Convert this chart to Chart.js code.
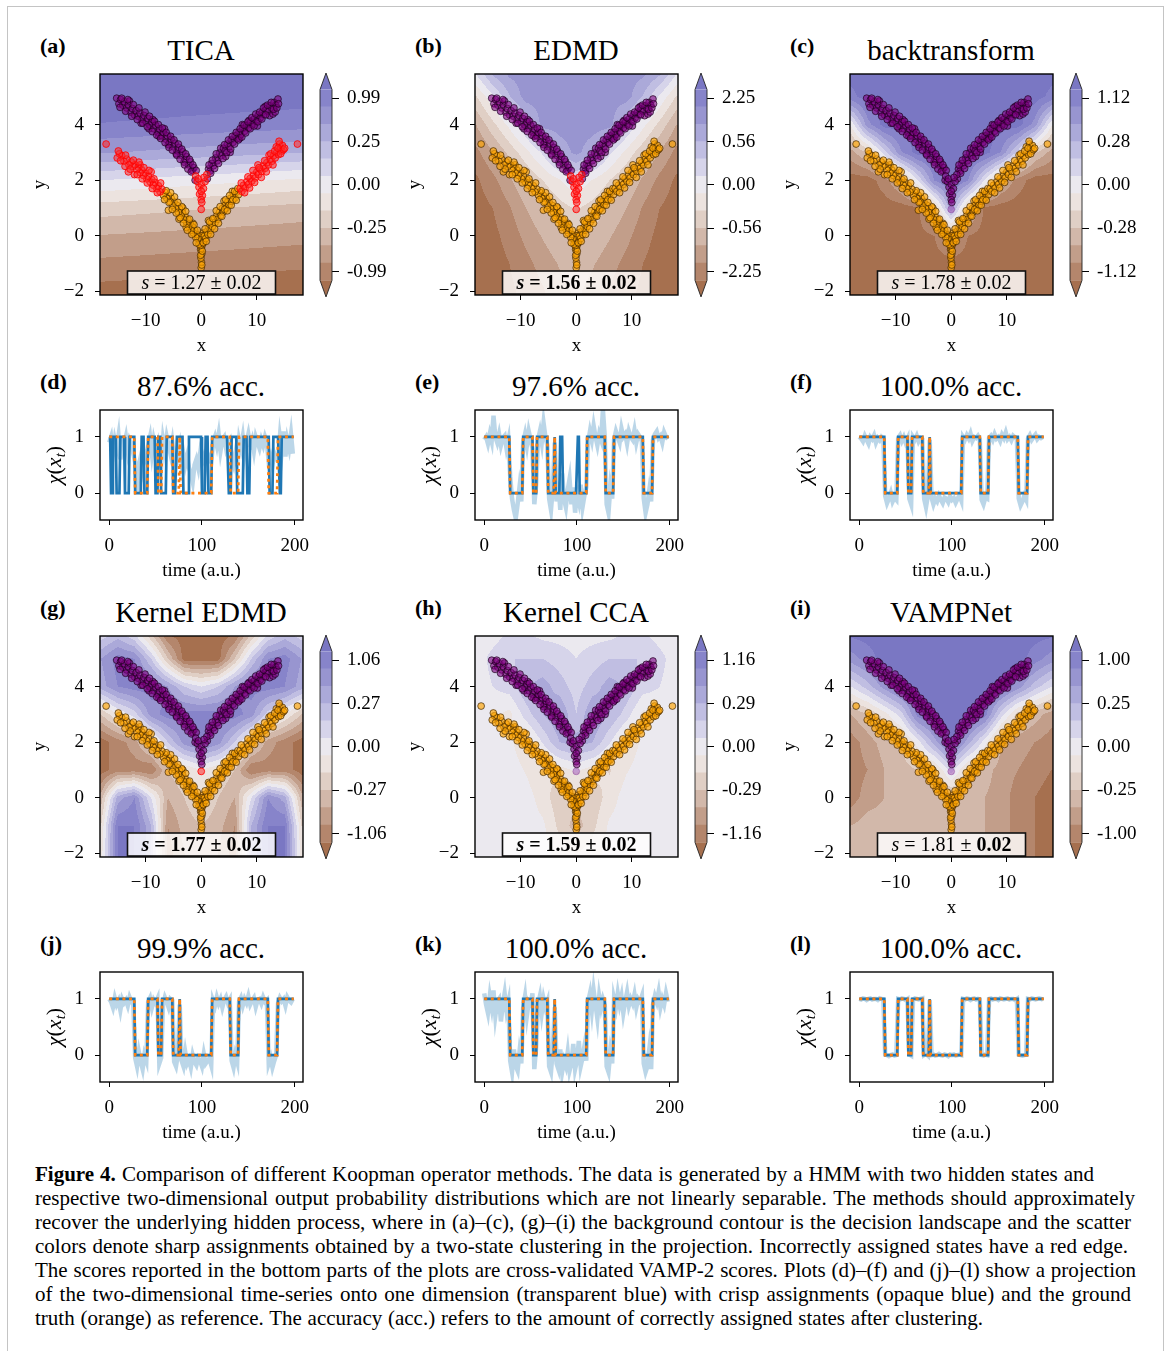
<!DOCTYPE html>
<html>
<head>
<meta charset="utf-8">
<script src="https://cdn.jsdelivr.net/npm/chart.js@4.4.0/dist/chart.umd.min.js"></script>
<style>
body { margin:0; background:#fff; width:1168px; height:1351px; position:relative; overflow:hidden; font-family:"Liberation Serif","Times New Roman",serif; color:#000; }
#frame { position:absolute; left:7px; top:6px; width:1155px; height:1400px; border:1px solid #c4c4c4; }
canvas { position:absolute; }
.tag { position:absolute; font-weight:bold; font-size:22px; line-height:26px; }
.ttl { position:absolute; font-size:29px; line-height:34px; width:300px; text-align:center; }
.cap { position:absolute; left:35px; font-size:21px; line-height:24px; white-space:nowrap; }
</style>
</head>
<body>
<div id="frame"></div>
<script>
// ---- scatter data (same trajectory in every contour panel) ----
var UPPER_V = [[-15.2,4.95],[-14.8,4.75],[-14.5,4.9],[-14.1,4.7],[-13.8,4.82],[-13.4,4.6],[-13.1,4.72],[-12.9,4.85],[-12.7,4.45],[-12.4,4.58],[-12.0,4.35],[-11.7,4.5],[-11.3,4.3],[-11.0,4.42],[-10.8,4.05],[-10.6,4.2],[-10.3,4.33],[-9.9,4.1],[-9.6,4.22],[-9.4,3.85],[-9.2,3.98],[-8.9,4.1],[-8.7,4.18],[-8.5,3.85],[-8.2,3.98],[-7.8,3.72],[-7.6,3.58],[-7.5,3.85],[-7.1,3.6],[-6.8,3.72],[-6.6,3.85],[-6.4,3.48],[-6.1,3.6],[-5.9,3.28],[-5.7,3.35],[-5.4,3.47],[-5.0,3.2],[-4.7,3.33],[-4.5,2.95],[-4.3,3.06],[-4.0,3.18],[-3.6,2.9],[-3.3,3.02],[-3.1,2.65],[-2.9,2.74],[-2.6,2.85],[-2.2,2.55],[-1.9,2.66],[-1.6,2.35],[-1.3,2.45],
  [-14.6,4.62],[-14.3,4.95],[-13.6,4.48],[-13.2,4.9],[-12.5,4.3],[-12.2,4.72],[-11.5,4.18],[-11.2,4.6],[-10.5,4.05],[-10.1,4.45],[-9.7,3.92],[-9.3,4.3],[-8.8,3.75],[-8.4,4.12],[-8.0,3.62],[-7.7,4.0],[-7.3,3.5],[-7.0,3.88],[-6.5,3.35],[-6.3,3.72],[-5.8,3.18],[-5.5,3.58],[-5.2,3.08],[-4.9,3.45],[-4.4,2.9],[-4.1,3.3],[-3.8,2.75],[-3.5,3.12],[-3.0,2.55],[-2.8,2.95],[-2.4,2.4],[-2.1,2.75],[-1.8,2.3],[-1.5,2.55],[-1.1,2.0],[-0.9,2.35],
  [1.3,2.4],[1.6,2.33],[1.9,2.6],[2.2,2.52],[2.6,2.8],[2.9,2.7],[3.3,2.98],[3.5,3.15],[3.6,2.88],[4.0,3.15],[4.3,3.05],[4.4,2.85],[4.7,3.3],[5.0,3.2],[5.2,3.0],[5.4,3.45],[5.7,3.36],[6.1,3.6],[6.4,3.5],[6.8,3.73],[6.9,3.5],[7.1,3.63],[7.4,4.0],[7.5,3.86],[7.8,3.76],[8.2,3.98],[8.5,3.88],[8.6,4.15],[8.9,4.1],[9.2,4.0],[9.6,4.22],[9.9,4.12],[10.1,3.95],[10.3,4.35],[10.6,4.24],[11.0,4.45],[11.3,4.36],[11.5,4.65],[11.7,4.55],[12.0,4.48],[12.3,4.32],[12.4,4.68],[12.7,4.58],[12.9,4.38],[13.1,4.8],[13.3,4.45],[13.4,4.7],[13.8,4.92],
  [1.1,2.05],[1.4,2.55],[1.7,2.25],[2.0,2.72],[2.4,2.42],[2.7,2.95],[3.1,2.6],[3.9,2.78],[4.2,3.28],[4.6,3.0],[4.9,3.45],[5.3,3.12],[5.6,3.58],[6.0,3.3],[6.3,3.72],[6.7,3.45],[7.0,3.85],[7.3,3.55],[7.7,3.98],[8.0,3.7],[8.4,4.1],[8.8,3.85],[9.1,4.25],[9.5,3.95],[9.8,4.38],[10.2,4.1],[10.5,4.45],[10.9,4.2],[11.2,4.6],[11.6,4.35],[11.9,4.7],[12.6,4.8],[13.0,4.55],[13.6,4.6],[13.9,4.75]];
var APEX = [[-1.0,2.15],[1.0,2.2],[-0.7,1.95],[-0.4,1.75],[0,1.85],[0.4,1.7],[0.7,1.95],[-0.3,1.5],[0.2,1.45],[0,1.3],[-0.5,2.05],[0.5,2.1],[0,1.6],[0.1,1.2]];
var STRAY = [[0,0.95]];
var LOWER_V = [[0,-1.15],[0.05,-0.95],[-0.05,-0.8],[0.1,-0.65],[-0.1,-0.5],[0.15,-0.35],[-0.2,-0.2],[0.25,-0.1],[-0.3,0.0],[0.35,0.1],[0,-0.45],[0,-0.25],
  [0.1,-1.05],[-0.1,-0.7],[0.2,-0.55],[-0.15,-0.35],[0.3,-0.25],[-0.25,-0.05],[0.15,0.0],
  [-0.4,-0.3],[-0.6,-0.1],[-0.8,0.05],[-1.0,-0.05],[-1.2,0.2],[-1.4,0.1],[-1.5,0.45],[-1.6,0.32],[-1.8,0.2],[-2.0,0.45],[-2.2,0.33],[-2.4,0.58],[-2.6,0.46],[-2.7,0.3],[-2.9,0.7],[-3.1,0.58],[-3.3,1.0],[-3.4,0.83],[-3.6,0.72],[-3.9,0.97],[-4.0,0.6],[-4.1,0.85],[-4.4,1.1],[-4.6,0.98],[-4.9,1.22],[-5.1,1.1],[-5.4,1.35],[-5.6,1.23],[-5.9,1.45],[-5.9,0.92],[-6.2,1.35],[-6.5,1.56],[-6.8,1.46],
  [-0.7,0.2],[-0.9,-0.25],[-1.3,0.4],[-1.7,0.05],[-2.1,0.6],[-2.5,0.2],[-2.8,0.88],[-3.2,0.45],[-3.5,1.05],[-3.8,0.65],[-4.2,1.2],[-4.5,0.82],[-4.8,1.4],[-5.2,0.95],[-5.5,1.55],[-5.8,1.2],[-6.3,1.62],[-6.6,1.3],
  [0.4,-0.25],[0.6,0.0],[0.8,-0.1],[1.0,0.15],[1.2,0.05],[1.3,0.55],[1.4,0.3],[1.6,0.2],[1.8,0.45],[2.0,0.33],[2.3,0.6],[2.5,0.48],[2.8,0.72],[3.0,0.6],[3.3,0.85],[3.5,0.73],[3.8,0.98],[4.0,0.86],[4.1,1.25],[4.3,1.1],[4.5,0.99],[4.8,1.22],[5.0,1.1],[5.3,1.35],[5.5,1.24],[5.6,1.6],[5.8,1.46],[6.1,1.36],[6.4,1.58],[6.7,1.48],
  [0.7,0.25],[0.9,-0.2],[1.5,0.5],[1.7,0.05],[2.1,0.62],[2.4,0.25],[2.7,0.9],[3.1,0.45],[3.4,1.05],[3.7,0.7],[4.2,0.95],[4.4,1.3],[4.7,0.9],[5.1,1.45],[5.4,1.1],[5.7,1.3],[6.0,1.6],[6.3,1.28],[6.6,1.7]];
var LOWER_OUTER = [[-7.1,1.68],[-7.4,1.58],[-7.7,1.8],[-8.0,1.7],[-8.3,1.92],[-8.6,1.82],[-8.9,2.02],[-9.0,2.3],[-9.2,1.94],[-9.5,2.15],[-9.8,2.05],[-10.1,2.26],[-10.4,2.17],[-10.7,2.37],[-11.0,2.28],[-11.0,2.55],[-11.3,2.46],[-11.6,2.38],[-11.9,2.56],[-12.0,2.2],[-12.3,2.5],[-12.6,2.66],[-13.0,2.55],[-13.1,2.3],[-13.4,2.76],[-13.9,2.68],[-14.3,2.88],[-14.7,2.95],[-15.1,2.8],
  [-7.3,1.9],[-7.9,1.55],[-8.5,2.05],[-8.8,1.7],[-9.4,2.35],[-9.7,1.9],[-10.3,2.45],[-10.6,2.05],[-11.2,2.65],[-11.5,2.2],[-12.2,2.72],[-12.8,2.4],[-13.6,2.9],[-13.7,2.5],[-14.5,2.7],[-14.9,3.05],
  [7.0,1.7],[7.3,1.6],[7.6,1.82],[7.9,1.72],[8.2,1.95],[8.5,1.85],[8.8,2.06],[9.1,1.97],[9.4,2.18],[9.7,2.08],[10.0,2.3],[10.2,2.55],[10.3,2.2],[10.6,2.4],[10.9,2.32],[11.2,2.52],[11.5,2.43],[11.8,2.63],[12.1,2.55],[12.2,2.9],[12.4,2.75],[12.7,2.68],[13.0,2.88],[13.3,2.8],[13.5,3.2],[13.6,3.0],[13.9,2.92],[14.1,3.3],[14.2,3.12],[14.5,3.05],[14.6,3.25],
  [7.2,1.9],[7.8,1.55],[8.4,2.12],[8.7,1.72],[9.3,2.35],[9.6,1.92],[10.4,2.45],[10.8,2.1],[11.4,2.7],[11.7,2.3],[12.5,2.95],[12.9,2.55],[13.2,3.05],[13.8,3.15],[14.3,2.95],[14.8,3.1],[14.0,3.4],[15.0,3.15],
  [-17.1,3.3],[17.3,3.3]];

// ---- background decision landscapes: contour level (-6 brown .. 6 purple) on a coarse grid ----
var FIELD_X = [-18,-15,-12,-9,-6,-3,0,3,6,9,12,15,18];
var FIELD_Y = [6,5,4,3,2,1,0,-1,-2];
var TICA_FIELD = [
  [6.5,6.5,6.5,6.5,6.5,6.5,6.5,6.5,6.5,6.5,6.5,6.5,6.5],
  [6.3,6.27,6.24,6.21,6.18,6.15,6.12,6.1,6.07,6.04,6.01,5.98,5.95],
  [5.45,5.4,5.36,5.31,5.27,5.22,5.18,5.13,5.08,5.04,4.99,4.95,4.9],
  [3.6,3.51,3.43,3.34,3.25,3.16,3.08,2.99,2.9,2.81,2.73,2.64,2.55],
  [0.5,0.4,0.3,0.21,0.11,0.01,-0.09,-0.19,-0.29,-0.38,-0.48,-0.58,-0.68],
  [-2,-2.07,-2.14,-2.21,-2.28,-2.35,-2.42,-2.49,-2.56,-2.63,-2.7,-2.77,-2.84],
  [-3.55,-3.6,-3.65,-3.7,-3.75,-3.8,-3.85,-3.89,-3.94,-3.99,-4.04,-4.09,-4.14],
  [-4.75,-4.79,-4.83,-4.87,-4.92,-4.96,-5,-5.04,-5.08,-5.12,-5.17,-5.21,-5.25],
  [-5.9,-5.94,-5.98,-6.02,-6.07,-6.11,-6.15,-6.19,-6.23,-6.27,-6.32,-6.36,-6.4]];
var EDMD_FIELD = [
  [1,3.2,4,4,4,4,4,4,4,4,4,3.2,1],
  [-1.6,0.3,2.4,4,4,4,4,4,4,4,2.4,0.3,-1.6],
  [-3.5,-1.8,-0.2,1.6,3.9,4,4,4,3.9,1.6,-0.2,-1.8,-3.5],
  [-4.8,-3.6,-2.2,-0.8,0.7,2.8,3.8,2.8,0.7,-0.8,-2.2,-3.6,-4.8],
  [-5.7,-4.8,-3.7,-2.5,-1.5,-0.6,0.4,-0.6,-1.5,-2.5,-3.7,-4.8,-5.7],
  [-6,-5.5,-4.6,-3.5,-2.6,-1.9,-1.4,-1.9,-2.6,-3.5,-4.6,-5.5,-6],
  [-6,-5.8,-5.1,-4.2,-3.4,-2.7,-2.2,-2.7,-3.4,-4.2,-5.1,-5.8,-6],
  [-6,-6,-5.5,-4.8,-4.1,-3.4,-2.8,-3.4,-4.1,-4.8,-5.5,-6,-6],
  [-6,-6,-5.7,-5.2,-4.6,-3.9,-3.3,-3.9,-4.6,-5.2,-5.7,-6,-6]];
var BACK_FIELD = [
  [6,6,6,6,6,6,6,6,6,6,6,6,6],
  [5.2,6,6,6,6,6,6,6,6,6,6,6,5.2],
  [-0.3,4.1,6,6,6,6,6,6,6,6,6,4.1,-0.3],
  [-3.9,-2.3,1.1,4.4,6,6,6,6,6,4.4,1.1,-2.3,-3.9],
  [-6,-6,-5,-3.1,0.5,4.6,6,4.6,0.5,-3.1,-5,-6,-6],
  [-6,-6,-6,-6,-5.7,-2.3,3.4,-2.3,-5.7,-6,-6,-6,-6],
  [-6,-6,-6,-6,-6,-5.5,-3.7,-5.5,-6,-6,-6,-6,-6],
  [-6,-6,-6,-6,-6,-6,-6,-6,-6,-6,-6,-6,-6],
  [-6,-6,-6,-6,-6,-6,-6,-6,-6,-6,-6,-6,-6]];
var KEDMD_FIELD = [
  [0.5,1.5,0,-3,-6,-6,-6,-6,-6,-3,0,1.5,0.5],
  [3.5,5,4.5,1.5,-2.5,-6,-6,-6,-2.5,1.5,4.5,5,3.5],
  [3,4.5,5,5,3.5,1.5,0.5,1.5,3.5,5,5,4.5,3],
  [-2.5,-0.5,1,4,5,5,5,5,5,4,1,-0.5,-2.5],
  [-6,-5,-4,-1.5,1.5,4,5,4,1.5,-1.5,-4,-5,-6],
  [-6,-5,-5,-5.5,-2.5,-1.5,-0.5,-1.5,-2.5,-5.5,-5,-5,-6],
  [-3,3,4.5,0.5,-3.5,-2.5,-1.5,-2.5,-3.5,0.5,4.5,3,-3],
  [-1.5,5.5,5.5,2.5,-4.5,-3,-2.5,-3,-4.5,2.5,5.5,5.5,-1.5],
  [-1,5.5,5.5,2.5,-5,-3.5,-3,-3.5,-5,2.5,5.5,5.5,-1]];
var KCCA_FIELD = [
  [0,0,0.5,0.5,0,0,0,0,0,0.5,0.5,0,0],
  [0,0.8,1.5,1.5,1.5,1,0.5,1,1.5,1.5,1.5,0.8,0],
  [0,0.5,1,2.4,3,2,1,2,3,2.4,1,0.5,0],
  [0,-0.3,-0.8,1,2.5,3.5,1.5,3.5,2.5,1,-0.8,-0.3,0],
  [0,0,-0.3,-1.2,0.6,2.5,3,2.5,0.6,-1.2,-0.3,0,0],
  [0,0,0,-0.6,-1.6,-1,-0.3,-1,-1.6,-0.6,0,0,0],
  [0,0,0,0,-1,-2.2,-2,-2.2,-1,0,0,0,0],
  [0,0,0,0,-0.3,-1.8,-3,-1.8,-0.3,0,0,0,0],
  [0,0,0,0,0,-1,-1.5,-1,0,0,0,0,0]];
var VAMP_FIELD = [
  [6,6,6,6,6,6,6,6,6,6,6,6,6],
  [4,5,6,6,6,6,6,6,6,6,6,5,4],
  [0.5,2,4,5.5,6,6,6,6,6,5.5,4,2,0.5],
  [-3.5,-2.5,-1,1,5,6,6,6,5,1,-2,-3,-4],
  [-5,-4,-3,-2.5,0,3,6,3,0,-3.5,-4,-4.5,-5],
  [-5,-4.5,-3.5,-3,-2.5,-2,1,-2,-3,-4,-4.5,-5,-5.5],
  [-5,-4,-3.5,-3,-3,-3,-3,-3,-3.5,-4,-5,-5.5,-6],
  [-3.5,-3,-3,-3,-3,-3,-3,-3,-3.5,-4,-5,-5.5,-6],
  [-3,-3,-3,-3,-3,-3,-3,-3,-3.5,-4,-5,-5.5,-6]];
var LEVEL_COLORS = ['#a6704f','#b4866c','#c29e8a','#d2b8aa','#e0cfc5','#ece3df','#ebe9ef','#d6d4ea','#c0bee2','#aba9d9','#9895d0','#8784ca','#7a77c3'];
var CB_LEVELS = [-5,-4,-3,-2,-1,0,1,2,3,4,5];
var CB_TICKS = [-5,-2.5,0,2.5,5];
var TICA_CB = ['-0.99','-0.25','0.00','0.25','0.99'];
var EDMD_CB = ['-2.25','-0.56','0.00','0.56','2.25'];
var BACK_CB = ['-1.12','-0.28','0.00','0.28','1.12'];
var KEDMD_CB = ['-1.06','-0.27','0.00','0.27','1.06'];
var KCCA_CB = ['-1.16','-0.29','0.00','0.29','1.16'];
var VAMP_CB = ['-1.00','-0.25','0.00','0.25','1.00'];
var XTICKS = [-10,0,10];
var YTICKS = [-2,0,2,4];

// ---- time series: state runs [value, length] over t = 0..199 ----
var TRUTH_RUNS = [[1,28],[0,14],[1,11],[0,4],[1,12],[0,7],[1,1],[0,34],[1,20],[0,9],[1,32],[0,10],[1,18]];
var TICA_CRISP_RUNS = [[1,2],[0,2],[1,4],[0,4],[1,5],[0,5],[1,6],[0,7],[1,3],[0,4],[1,8],[0,3],[1,3],[0,6],[1,7],[0,4],[1,7],[0,6],[1,14],[0,4],[1,3],[0,4],[1,18],[0,3],[1,6],[0,7],[1,4],[0,3],[1,21],[0,4],[1,7],[0,2],[1,14]];
var EDMD_CRISP_RUNS = [[1,28],[0,14],[1,11],[0,4],[1,12],[0,7],[1,1],[0,5],[1,3],[0,16],[1,2],[0,8],[1,20],[0,9],[1,32],[0,10],[1,18]];
// projections sampled at t = 0, 2, 4, ..., 198
var TICA_PROJ = [0.9,1.0,0.7,0.95,0.8,1.02,0.6,0.9,0.85,1.0,0.75,0.95,0.88,0.7,
  0.55,0.0,0.5,0.65,0.45,0.7,0.6, 0.85,1.0,0.7,0.95,0.8,0.9, 0.6,0.5, 0.95,0.75,1.0,0.85,0.7,0.9, 0.6,0.5,0.7, 0.85,
  0.55,0.7,0.5,0.65,0.45,0.35,0.2,0.5,0.6,0.45,0.7,0.55,0.65,0.5,0.7,0.6,0.55,
  0.9,1.0,0.85,1.05,0.75,0.95,1.0,0.8,0.9,0.95, 0.6,0.5,0.7,0.55,
  0.95,0.8,1.0,0.7,0.9,1.05,0.85,0.95,0.75,1.0,0.9,0.8,0.95,0.85,1.0,0.9, 0.55,0.65,0.5,0.7,0.6,
  0.6,1.0,0.75,1.1,0.65,0.95,0.8,1.05,0.7];
var EDMD_PROJ = [0.95,1.0,0.88,1.05,0.92,1.38,1.0,0.9,1.05,0.85,0.98,1.02,0.8,0.95,
  0.3,-0.1,-0.3,-0.45,-0.2,0.1,-0.15, 0.9,1.05,0.85,1.1,0.95,0.8, -0.2,0.15, 0.95,1.1,0.9,1.25,1.0,0.85, -0.1,-0.3,0.1, 0.9,
  -0.15,0.2,-0.3,0.35,-0.1,-0.25,0.05,0.25,-0.2,0.1,-0.35,0.0,-0.15,0.15,-0.25,-0.05,0.1,
  0.9,1.1,0.95,1.2,1.0,0.85,1.05,0.95,1.48,1.0, -0.2,-0.35,0.1,-0.1,
  0.95,1.1,1.0,0.9,1.15,1.0,1.05,0.88,1.1,1.0,0.95,1.12,0.9,1.05,1.0,0.92, -0.1,-0.35,-0.2,0.05,-0.15,
  0.95,1.05,1.1,0.98,1.02,0.9,1.08,1.0,0.96];
var BACK_PROJ = [1.0,0.97,0.92,1.02,0.95,0.88,1.0,0.96,1.03,0.9,0.98,0.94,1.0,0.97,
  -0.05,-0.18,-0.1,0.0,-0.15,-0.08,-0.12, 0.98,1.03,0.93,1.0,0.9,0.97, -0.1,-0.2, 1.0,0.95,1.02,0.92,0.98,0.96, -0.1,-0.25,-0.05, 0.95,
  -0.08,-0.2,-0.1,-0.15,-0.05,-0.12,-0.18,-0.08,-0.1,-0.16,-0.06,-0.12,-0.09,-0.17,-0.1,-0.04,-0.13,
  1.0,0.95,1.03,0.97,1.06,0.93,1.0,0.98,1.02,0.96, -0.12,-0.2,-0.08,-0.1,
  0.98,1.02,0.95,1.05,0.97,1.0,0.93,1.04,0.98,1.08,0.96,1.0,0.94,1.02,0.99,0.97, -0.1,-0.22,-0.15,-0.05,-0.12,
  0.97,1.03,0.95,1.0,1.04,0.96,1.0,0.98,1.0];
var KEDMD_PROJ = [1.0,0.95,0.85,1.02,0.9,0.97,0.8,1.0,0.93,0.98,0.88,1.03,0.95,0.9,
  -0.05,-0.2,0.05,-0.12,-0.25,0.0,-0.1, 0.95,1.02,0.85,0.98,0.92,1.0, -0.15,-0.05, 0.9,1.03,0.95,0.85,1.0,0.97, -0.12,-0.2,0.0, 0.9,
  -0.1,-0.2,0.05,-0.15,-0.08,-0.22,0.0,-0.12,-0.18,-0.05,-0.1,-0.2,0.02,-0.15,-0.1,-0.06,-0.18,
  0.97,0.88,1.03,0.92,1.0,0.85,0.98,1.04,0.93,0.99, -0.1,-0.22,0.0,-0.12,
  0.95,1.02,0.88,1.0,0.93,1.05,0.9,0.97,1.02,0.86,0.98,1.0,0.92,1.03,0.95,0.98, -0.15,-0.05,-0.22,-0.1,0.0,
  0.92,1.02,0.96,1.0,0.88,1.03,0.97,0.94,1.0];
var KCCA_PROJ = [1.1,0.9,0.75,1.05,0.85,1.15,0.7,0.95,1.0,0.6,0.9,1.1,0.8,0.95,
  -0.1,-0.3,0.1,-0.2,-0.28,0.05,-0.15, 0.85,1.05,0.7,0.95,0.9,1.1, -0.25,0.15, 0.9,1.05,0.75,1.0,0.85,0.95, -0.2,-0.3,0.1, 0.85,
  -0.15,-0.25,0.1,-0.3,-0.1,-0.2,0.05,-0.28,-0.15,0.2,-0.25,-0.1,0.25,-0.2,-0.05,0.15,-0.1,
  0.95,1.1,0.8,1.15,0.9,0.65,1.05,0.85,1.0,0.9, -0.2,-0.3,0.05,-0.15,
  1.0,0.85,1.1,0.9,1.05,0.75,0.95,1.12,0.88,1.0,0.92,1.08,0.85,1.0,0.95,1.05, -0.15,-0.3,-0.2,0.1,-0.25,
  0.9,1.05,0.95,1.12,0.85,1.0,0.9,1.1,0.95];
var VAMP_PROJ = [1.0,0.99,1.01,1.0,0.98,1.0,1.01,0.99,1.0,1.0,0.98,1.01,1.0,0.99,
  0.01,0.0,-0.02,0.0,0.01,-0.01,0.0, 1.0,0.99,1.01,1.0,0.98,1.0, 0.01,-0.01, 0.99,1.01,1.0,0.99,1.0,1.01, 0.0,0.02,-0.01, 0.98,
  0.0,0.01,-0.01,0.0,0.02,0.0,-0.01,0.01,0.0,-0.02,0.01,0.0,0.01,-0.01,0.0,0.01,0.0,
  1.0,0.99,1.01,1.0,0.98,1.0,1.01,0.99,1.0,0.99, 0.0,-0.01,0.01,0.0,
  1.0,1.01,0.99,1.0,1.0,0.98,1.01,1.0,0.99,1.0,1.01,0.99,1.0,1.0,0.98,1.0, 0.01,0.0,-0.01,0.0,0.01,
  1.0,0.99,1.01,1.0,0.99,1.0,1.01,1.0,0.99];
var TIME_TICKS = [0,100,200];
var CHI_TICKS = [0,1];

var CAPTION_LINES = [
  'Comparison of different Koopman operator methods. The data is generated by a HMM with two hidden states and',
  'respective two-dimensional output probability distributions which are not linearly separable. The methods should approximately',
  'recover the underlying hidden process, where in (a)\u2013(c), (g)\u2013(i) the background contour is the decision landscape and the scatter',
  'colors denote sharp assignments obtained by a two-state clustering in the projection. Incorrectly assigned states have a red edge.',
  'The scores reported in the bottom parts of the plots are cross-validated VAMP-2 scores. Plots (d)\u2013(f) and (j)\u2013(l) show a projection',
  'of the two-dimensional time-series onto one dimension (transparent blue) with crisp assignments (opaque blue) and the ground',
  'truth (orange) as reference. The accuracy (acc.) refers to the amount of correctly assigned states after clustering.'];
var CAPTION_RIGHT = [1094, 1135, 1131, 1128, 1136, 1131, 983];

var CONTOURS = [
  {tag:'(a)', title:'TICA', field:TICA_FIELD, cb:TICA_CB, score:'1.27', bold:[false,false], red:['apex','stray','outer'], col:0, row:0},
  {tag:'(b)', title:'EDMD', field:EDMD_FIELD, cb:EDMD_CB, score:'1.56', bold:[true,true], red:['apex','stray'], col:1, row:0},
  {tag:'(c)', title:'backtransform', field:BACK_FIELD, cb:BACK_CB, score:'1.78', bold:[false,false], red:[], col:2, row:0},
  {tag:'(g)', title:'Kernel EDMD', field:KEDMD_FIELD, cb:KEDMD_CB, score:'1.77', bold:[true,true], red:['stray'], col:0, row:1},
  {tag:'(h)', title:'Kernel CCA', field:KCCA_FIELD, cb:KCCA_CB, score:'1.59', bold:[true,true], red:[], col:1, row:1},
  {tag:'(i)', title:'VAMPNet', field:VAMP_FIELD, cb:VAMP_CB, score:'1.81', bold:[false,true], red:[], col:2, row:1}
];
var SERIES = [
  {tag:'(d)', title:'87.6% acc.', proj:TICA_PROJ, crisp:TICA_CRISP_RUNS, col:0, row:0},
  {tag:'(e)', title:'97.6% acc.', proj:EDMD_PROJ, crisp:EDMD_CRISP_RUNS, col:1, row:0},
  {tag:'(f)', title:'100.0% acc.', proj:BACK_PROJ, crisp:TRUTH_RUNS, col:2, row:0},
  {tag:'(j)', title:'99.9% acc.', proj:KEDMD_PROJ, crisp:TRUTH_RUNS, col:0, row:1},
  {tag:'(k)', title:'100.0% acc.', proj:KCCA_PROJ, crisp:TRUTH_RUNS, col:1, row:1},
  {tag:'(l)', title:'100.0% acc.', proj:VAMP_PROJ, crisp:TRUTH_RUNS, col:2, row:1}
];

// ---- layout ----
var COL_X = [0, 375, 750];
var CONTOUR_TOP = [74, 636];
var SERIES_TOP = [410, 972];
var SERIF = '"Liberation Serif", "Times New Roman", serif';

Chart.defaults.font.family = SERIF;
Chart.defaults.color = '#000';
Chart.defaults.animation = false;
Chart.defaults.events = [];
Chart.defaults.plugins.legend.display = false;
Chart.defaults.plugins.tooltip.enabled = false;

function hexRgb(h) {
  return [parseInt(h.substr(1,2),16), parseInt(h.substr(3,2),16), parseInt(h.substr(5,2),16)];
}
var LEVEL_RGB = LEVEL_COLORS.map(hexRgb);

function addCanvas(left, top, w, h) {
  var c = document.createElement('canvas');
  c.width = w; c.height = h;
  c.style.left = left + 'px'; c.style.top = top + 'px';
  c.style.width = w + 'px'; c.style.height = h + 'px';
  document.body.appendChild(c);
  return c;
}
function addDiv(cls, html, left, top) {
  var d = document.createElement('div');
  d.className = cls; d.innerHTML = html;
  d.style.left = left + 'px'; d.style.top = top + 'px';
  document.body.appendChild(d);
  return d;
}
function fmtAxis(v) { return v < 0 ? '\u2212' + Math.abs(v) : String(v); }
function toPts(arr) { return arr.map(function (p) { return {x: p[0], y: p[1]}; }); }
function expandRuns(runs) {
  var out = [];
  runs.forEach(function (r) { for (var k = 0; k < r[1]; k++) out.push(r[0]); });
  return out;
}
// fixed-size axes that don't reserve extra room around the plot for their labels
function fixedYAxis(width) {
  return function (s) { s.width = width; s.paddingTop = 0; s.paddingBottom = 0; };
}
function fixedXAxis(height) {
  return function (s) { s.height = height; s.paddingLeft = 0; s.paddingRight = 0; };
}

function bracket(arr, v, desc) {
  for (var i = 0; i < arr.length - 1; i++) {
    var a = arr[i], b = arr[i + 1];
    if (desc ? (v <= a && v >= b) : (v >= a && v <= b)) return [i, (v - a) / (b - a)];
  }
  if (desc) return v > arr[0] ? [0, 0] : [arr.length - 2, 1];
  return v < arr[0] ? [0, 0] : [arr.length - 2, 1];
}
function sampleField(g, x, y) {
  var bx = bracket(FIELD_X, x, false), by = bracket(FIELD_Y, y, true);
  var i = bx[0], tx = bx[1], j = by[0], ty = by[1];
  var top = g[j][i] * (1 - tx) + g[j][i + 1] * tx;
  var bot = g[j + 1][i] * (1 - tx) + g[j + 1][i + 1] * tx;
  return top * (1 - ty) + bot * ty;
}

var framePlugin = {
  id: 'frame',
  afterDraw: function (chart) {
    var a = chart.chartArea, ctx = chart.ctx;
    ctx.save();
    ctx.strokeStyle = '#000'; ctx.lineWidth = 1.4;
    ctx.strokeRect(a.left, a.top, a.right - a.left, a.bottom - a.top);
    ctx.restore();
  }
};

function fieldPlugin(grid) {
  return {
    id: 'field',
    beforeDatasetsDraw: function (chart) {
      var a = chart.chartArea, ctx = chart.ctx, xs = chart.scales.x, ys = chart.scales.y;
      var w = Math.round(a.right - a.left), h = Math.round(a.bottom - a.top);
      var off = document.createElement('canvas');
      off.width = w; off.height = h;
      var octx = off.getContext('2d');
      var img = octx.createImageData(w, h);
      for (var py = 0; py < h; py++) {
        var yv = ys.getValueForPixel(a.top + py + 0.5);
        for (var px = 0; px < w; px++) {
          var xv = xs.getValueForPixel(a.left + px + 0.5);
          var lv = Math.max(-6, Math.min(6, Math.round(sampleField(grid, xv, yv))));
          var c = LEVEL_RGB[lv + 6], k = (py * w + px) * 4;
          img.data[k] = c[0]; img.data[k + 1] = c[1]; img.data[k + 2] = c[2]; img.data[k + 3] = 255;
        }
      }
      octx.putImageData(img, 0, 0);
      ctx.drawImage(off, a.left, a.top);
    }
  };
}

function scorePlugin(p) {
  return {
    id: 'score',
    afterDatasetsDraw: function (chart) {
      var a = chart.chartArea, ctx = chart.ctx;
      var bw = 148, bh = 23;
      var bx = (a.left + a.right) / 2 - bw / 2, by = a.bottom - bh - 1;
      ctx.save();
      ctx.fillStyle = 'rgba(255,255,255,0.82)';
      ctx.fillRect(bx, by, bw, bh);
      ctx.strokeStyle = '#111'; ctx.lineWidth = 1.6;
      ctx.strokeRect(bx, by, bw, bh);
      var pieces = [
        {t: 's', f: (p.bold[0] ? 'italic bold ' : 'italic ') + '20px ' + SERIF},
        {t: ' = ' + p.score + ' \u00b1 ', f: (p.bold[0] ? 'bold ' : '') + '20px ' + SERIF},
        {t: '0.02', f: (p.bold[1] ? 'bold ' : '') + '20px ' + SERIF}
      ];
      var total = 0;
      pieces.forEach(function (q) { ctx.font = q.f; q.w = ctx.measureText(q.t).width; total += q.w; });
      var x = (a.left + a.right) / 2 - total / 2;
      ctx.fillStyle = '#000'; ctx.textBaseline = 'middle';
      pieces.forEach(function (q) { ctx.font = q.f; ctx.fillText(q.t, x, by + bh / 2 + 1); x += q.w; });
      ctx.restore();
    }
  };
}

var chiPlugin = {
  id: 'chi',
  afterDraw: function (chart) {
    var a = chart.chartArea, ctx = chart.ctx;
    var pieces = [
      {t: '\u03c7', f: 'italic 22px ' + SERIF, dy: 0},
      {t: '(', f: '22px ' + SERIF, dy: 0},
      {t: 'x', f: 'italic 22px ' + SERIF, dy: 0},
      {t: 't', f: 'italic 15px ' + SERIF, dy: 6},
      {t: ')', f: '22px ' + SERIF, dy: 0}
    ];
    ctx.save();
    ctx.translate(35, (a.top + a.bottom) / 2);
    ctx.rotate(-Math.PI / 2);
    var total = 0;
    pieces.forEach(function (q) { ctx.font = q.f; q.w = ctx.measureText(q.t).width; total += q.w; });
    var x = -total / 2;
    ctx.fillStyle = '#000'; ctx.textBaseline = 'middle';
    pieces.forEach(function (q) { ctx.font = q.f; ctx.fillText(q.t, x, q.dy); x += q.w; });
    ctx.restore();
  }
};

var cbExtendPlugin = {
  id: 'cbExtend',
  afterDatasetsDraw: function (chart) {
    var a = chart.chartArea, ctx = chart.ctx, h = 16.6;
    var cx = (a.left + a.right) / 2;
    ctx.save();
    ctx.fillStyle = LEVEL_COLORS[12];
    ctx.beginPath(); ctx.moveTo(a.left, a.top); ctx.lineTo(cx, a.top - h); ctx.lineTo(a.right, a.top); ctx.closePath(); ctx.fill();
    ctx.fillStyle = LEVEL_COLORS[0];
    ctx.beginPath(); ctx.moveTo(a.left, a.bottom); ctx.lineTo(cx, a.bottom + h); ctx.lineTo(a.right, a.bottom); ctx.closePath(); ctx.fill();
    ctx.strokeStyle = '#222'; ctx.lineWidth = 0.9;
    ctx.beginPath();
    ctx.moveTo(a.left, a.top); ctx.lineTo(cx, a.top - h); ctx.lineTo(a.right, a.top);
    ctx.lineTo(a.right, a.bottom); ctx.lineTo(cx, a.bottom + h); ctx.lineTo(a.left, a.bottom);
    ctx.closePath(); ctx.stroke();
    ctx.restore();
  }
};

function tickGrid(len) {
  return {display: true, drawOnChartArea: false, drawTicks: true, tickLength: len, color: '#000', lineWidth: 1};
}

var PURPLE = {bg: 'rgba(128,0,128,0.6)', bd: 'rgba(25,0,25,0.75)'};
var ORANGE = {bg: 'rgba(255,165,0,0.65)', bd: 'rgba(60,35,0,0.75)'};
var RED = {bg: 'rgba(255,40,40,0.55)', bd: 'rgba(255,0,0,0.9)'};

function scatterSet(pts, style, order) {
  return {data: toPts(pts), backgroundColor: style.bg, borderColor: style.bd, borderWidth: 0.9,
          pointRadius: 3.4, order: order};
}

CONTOURS.forEach(function (p) {
  var cx = COL_X[p.col], top = CONTOUR_TOP[p.row];
  addDiv('tag', p.tag, 40 + cx, top - 41);
  addDiv('ttl', p.title, 51 + cx, top - 41);

  var isRed = function (g) { return p.red.indexOf(g) >= 0; };
  var canvas = addCanvas(20 + cx, top - 12, 290, 300);
  new Chart(canvas, {
    type: 'scatter',
    data: {datasets: [
      scatterSet(LOWER_V, ORANGE, 5),
      scatterSet(LOWER_OUTER, isRed('outer') ? RED : ORANGE, 4),
      scatterSet(UPPER_V, PURPLE, 3),
      scatterSet(APEX, isRed('apex') ? RED : PURPLE, 2),
      scatterSet(STRAY, isRed('stray') ? RED : {bg: 'rgba(150,60,170,0.45)', bd: 'rgba(120,40,140,0.4)'}, 1)
    ]},
    options: {
      responsive: false,
      layout: {padding: {left: 0, right: 7, top: 12, bottom: 0}},
      scales: {
        x: {type: 'linear', min: -18.2, max: 18.3,
            afterBuildTicks: function (s) { s.ticks = XTICKS.map(function (v) { return {value: v}; }); },
            afterFit: fixedXAxis(67),
            ticks: {font: {size: 19}, padding: 10, maxRotation: 0, callback: fmtAxis},
            grid: tickGrid(5), border: {display: false},
            title: {display: true, text: 'x', font: {size: 19}, padding: {top: 0, bottom: 5}}},
        y: {type: 'linear', min: -2.13, max: 5.82,
            afterBuildTicks: function (s) { s.ticks = YTICKS.map(function (v) { return {value: v}; }); },
            afterFit: fixedYAxis(80),
            ticks: {font: {size: 19}, padding: 11, callback: fmtAxis},
            grid: tickGrid(5), border: {display: false},
            title: {display: true, text: 'y', font: {size: 19}, padding: {top: 9, bottom: 0}}}
      }
    },
    plugins: [fieldPlugin(p.field), scorePlugin(p), framePlugin]
  });

  var cb = addCanvas(312 + cx, top - 12, 100, 300);
  new Chart(cb, {
    type: 'bar',
    data: {labels: [''], datasets: CB_LEVELS.map(function (L) {
      return {data: [[L - 0.5, L + 0.5]], backgroundColor: LEVEL_COLORS[L + 6], borderWidth: 0,
              grouped: false, barPercentage: 1, categoryPercentage: 1};
    })},
    options: {
      responsive: false,
      layout: {padding: {left: 8, right: 0, top: 27.6, bottom: 81.7}},
      scales: {
        x: {display: false},
        y: {position: 'right', min: -5.5, max: 5.5,
            afterBuildTicks: function (s) { s.ticks = CB_TICKS.map(function (v) { return {value: v}; }); },
            afterFit: fixedYAxis(80),
            ticks: {font: {size: 19}, padding: 8,
                    callback: function (v) { return p.cb[CB_TICKS.indexOf(v)]; }},
            grid: tickGrid(7), border: {display: false}}
      }
    },
    plugins: [cbExtendPlugin]
  });
});

SERIES.forEach(function (p) {
  var cx = COL_X[p.col], top = SERIES_TOP[p.row];
  addDiv('tag', p.tag, 40 + cx, top - 41);
  addDiv('ttl', p.title, 51 + cx, top - 41);

  var truth = expandRuns(TRUTH_RUNS).map(function (v, t) { return {x: t, y: v}; });
  var crisp = expandRuns(p.crisp).map(function (v, t) { return {x: t, y: v}; });
  var proj = p.proj.map(function (v, i) { return {x: 2 * i, y: v}; });
  var canvas = addCanvas(20 + cx, top - 12, 290, 190);
  new Chart(canvas, {
    type: 'line',
    data: {datasets: [
      {data: truth, borderColor: '#ff7f0e', borderWidth: 2.7, borderDash: [3, 3.6], pointRadius: 0, order: 0},
      {data: crisp, borderColor: '#1f77b4', borderWidth: 2.7, pointRadius: 0, order: 1},
      {data: proj, borderColor: 'rgba(31,119,180,0.3)', borderWidth: 4.5, pointRadius: 0, order: 2}
    ]},
    options: {
      responsive: false,
      layout: {padding: {left: 0, right: 7, top: 12, bottom: 0}},
      scales: {
        x: {type: 'linear', min: -9.95, max: 208.95,
            afterBuildTicks: function (s) { s.ticks = TIME_TICKS.map(function (v) { return {value: v}; }); },
            afterFit: fixedXAxis(68),
            ticks: {font: {size: 19}, padding: 10, maxRotation: 0},
            grid: tickGrid(5), border: {display: false},
            title: {display: true, text: 'time (a.u.)', font: {size: 19}, padding: {top: 0, bottom: 6}}},
        y: {type: 'linear', min: -0.48, max: 1.48,
            afterBuildTicks: function (s) { s.ticks = CHI_TICKS.map(function (v) { return {value: v}; }); },
            afterFit: fixedYAxis(80),
            ticks: {font: {size: 19}, padding: 11},
            grid: tickGrid(5), border: {display: false}}
      }
    },
    plugins: [framePlugin, chiPlugin]
  });
});

CAPTION_LINES.forEach(function (txt, i) {
  var html = i === 0 ? '<b>Figure 4.</b> ' + txt : txt;
  var d = addDiv('cap', html, 35, 1162 + 24 * i);
  var natural = d.getBoundingClientRect().width;
  var spaces = (html.match(/ /g) || []).length;
  d.style.wordSpacing = ((CAPTION_RIGHT[i] - 35 - natural) / spaces) + 'px';
});
</script>
</body>
</html>
